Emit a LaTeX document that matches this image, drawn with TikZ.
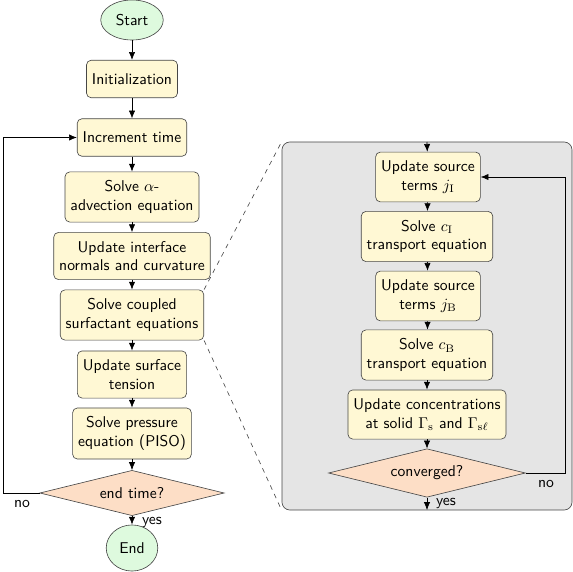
\documentclass[tikz,border=0pt]{standalone}
\usetikzlibrary{shapes.geometric,arrows.meta}
\definecolor{boxfill}{RGB}{255,248,212}
\definecolor{termfill}{RGB}{222,250,222}
\definecolor{decfill}{RGB}{253,222,198}
\definecolor{panelfill}{RGB}{229,229,229}
\definecolor{edge}{RGB}{70,70,70}
\tikzset{
  stepbox/.style={draw=edge, fill=boxfill, rounded corners=3pt, align=center, inner xsep=3.5pt, inner ysep=5.5pt, minimum height=24pt, font=\sffamily},
  term/.style={draw=edge, fill=termfill, ellipse, inner sep=1pt, font=\sffamily},
  decision/.style={draw=edge, fill=decfill, diamond, aspect=4, inner sep=0pt, font=\sffamily},
  arr/.style={-{Latex[length=5pt,width=4pt]}, draw=black},
  lbl/.style={font=\sffamily, inner sep=1pt}
}
\begin{document}
\begin{tikzpicture}[x=0.64pt, y=-0.64pt]
\useasboundingbox (0,0) rectangle (573,572);
% panel
\node[draw=edge, fill=panelfill, rounded corners=5pt, minimum width=290*0.64pt, minimum height=368*0.64pt, inner sep=0pt] (panel) at (427,326) {};
% left column
\node[term, minimum width=40pt, minimum height=25.6pt] (start) at (132,20) {Start};
\node[stepbox] (init) at (132,79) {Initialization};
\node[stepbox] (incr) at (132,137.5) {Increment time};
\node[stepbox] (alpha) at (132,197) {Solve $\alpha$-\\advection equation};
\node[stepbox] (iface) at (132,256) {Update interface\\normals and curvature};
\node[stepbox] (coupled) at (132,315) {Solve coupled\\surfactant equations};
\node[stepbox] (tension) at (132,374.5) {Update surface\\tension};
\node[stepbox] (piso) at (132,433.5) {Solve pressure\\equation (PISO)};
\node[decision, minimum width=118pt, minimum height=29pt] (endtime) at (132,493) {end time?};
\node[term, minimum width=33pt, minimum height=29.5pt] (end) at (132,548) {End};
% right column
\node[stepbox] (jI) at (428,177) {Update source\\terms $j_{\mathrm{I}}$};
\node[stepbox] (cI) at (427,236.5) {Solve $c_{\mathrm{I}}$\\transport equation};
\node[stepbox] (jB) at (428,296) {Update source\\terms $j_{\mathrm{B}}$};
\node[stepbox] (cB) at (427,355) {Solve $c_{\mathrm{B}}$\\transport equation};
\node[stepbox] (conc) at (427,414.5) {Update concentrations\\at solid $\Gamma_{\mathrm{s}}$ and $\Gamma_{\mathrm{s}\ell}$};
\node[decision, minimum width=126pt, minimum height=31pt] (conv) at (427,473) {converged?};
% coordinates
\coordinate (ptop) at (427,142);
\coordinate (pbot) at (427,510);
\coordinate (lloop) at (3,493);
\coordinate (rloop) at (565,473);
% arrows left
\draw[arr] (start) -- (init);
\draw[arr] (init) -- (incr);
\draw[arr] (incr) -- (alpha);
\draw[arr] (alpha) -- (iface);
\draw[arr] (iface) -- (coupled);
\draw[arr] (coupled) -- (tension);
\draw[arr] (tension) -- (piso);
\draw[arr] (piso) -- (endtime);
\draw[arr] (endtime) -- (end);
\node[lbl] (yesl) at (152,522) {yes};
\draw[arr] (endtime.west) -- (lloop) |- (incr.west);
\node[lbl] (nol) at (22,504) {no};
% arrows right
\draw[arr] (ptop) -- (jI);
\draw[arr] (jI) -- (cI);
\draw[arr] (cI) -- (jB);
\draw[arr] (jB) -- (cB);
\draw[arr] (cB) -- (conc);
\draw[arr] (conc) -- (conv);
\draw[arr] (conv) -- (pbot);
\node[lbl] (yesr) at (446,503) {yes};
\draw[arr] (conv.east) -- (rloop) |- (jI.east);
\node[lbl] (nor) at (546,484) {no};
% zoom lines
\draw[dashed, draw=edge, thin] (coupled.north east) -- (panel.north west);
\draw[dashed, draw=edge, thin] (coupled.south east) -- (panel.south west);
\end{tikzpicture}
\end{document}
